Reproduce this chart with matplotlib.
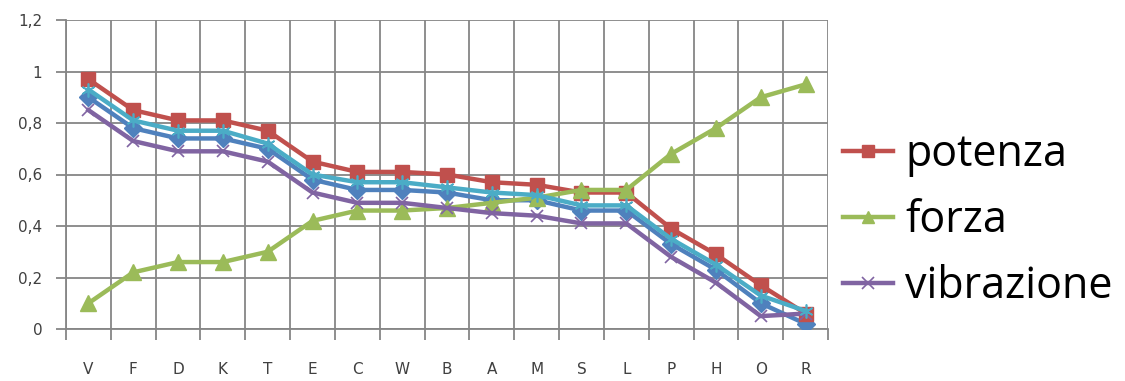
import matplotlib
matplotlib.use("Agg")
import matplotlib.pyplot as plt
from matplotlib.lines import Line2D
from matplotlib.ticker import FixedLocator, FuncFormatter

categories = ["V", "F", "D", "K", "T", "E", "C", "W", "B", "A", "M", "S", "L", "P", "H", "O", "R"]

serie_blu = [0.90, 0.78, 0.74, 0.74, 0.70, 0.58, 0.54, 0.54, 0.53, 0.50, 0.50, 0.46, 0.46, 0.33, 0.23, 0.10, 0.02]
potenza = [0.97, 0.85, 0.81, 0.81, 0.77, 0.65, 0.61, 0.61, 0.60, 0.57, 0.56, 0.53, 0.53, 0.39, 0.29, 0.17, 0.06]
forza = [0.10, 0.22, 0.26, 0.26, 0.30, 0.42, 0.46, 0.46, 0.47, 0.49, 0.51, 0.54, 0.54, 0.68, 0.78, 0.90, 0.95]
vibrazione = [0.85, 0.73, 0.69, 0.69, 0.65, 0.53, 0.49, 0.49, 0.47, 0.45, 0.44, 0.41, 0.41, 0.28, 0.18, 0.05, 0.06]
serie_ciano = [0.93, 0.81, 0.77, 0.77, 0.72, 0.60, 0.57, 0.57, 0.55, 0.53, 0.52, 0.48, 0.48, 0.35, 0.25, 0.13, 0.07]

y_ticks = [0, 0.2, 0.4, 0.6, 0.8, 1.0, 1.2]

fig = plt.figure(figsize=(11.25, 3.81), dpi=100)
ax = fig.add_axes([66 / 1125, 1 - 329 / 381, (828 - 66) / 1125, (329 - 20) / 381])

x = list(range(len(categories)))
grid_c = "#868686"
lw = 3.2

ax.plot(x, serie_blu, color="#4F81BD", lw=lw, marker="D", ms=9, zorder=3)
ax.plot(x, potenza, color="#C0504D", lw=lw, marker="s", ms=10, zorder=4)
ax.plot(x, forza, color="#9BBB59", lw=lw, marker="^", ms=11, zorder=5)
ax.plot(x, vibrazione, color="#8064A2", lw=lw, marker="x", ms=9, mew=1.2, zorder=6)
ax.plot(x, serie_ciano, color="#4BACC6", lw=lw, marker=(6, 2, 0), ms=10, mew=1.2, zorder=7)

ax.set_xlim(-0.5, len(categories) - 0.5)
ax.set_ylim(0, 1.2)

ax.set_xticks(x)
ax.set_xticklabels(categories)
ax.xaxis.set_minor_locator(FixedLocator([i - 0.5 for i in range(len(categories) + 1)]))
ax.tick_params(axis="x", which="major", length=0, pad=24, labelsize=11, labelcolor="#404040")
ax.tick_params(axis="x", which="minor", length=8, width=1.3, color=grid_c)

ax.set_yticks(y_ticks)
ax.yaxis.set_major_formatter(FuncFormatter(lambda v, p: ("%g" % round(v, 1)).replace(".", ",")))
ax.tick_params(axis="y", which="major", length=7, width=1.3, color=grid_c, pad=10,
               labelsize=11, labelcolor="#404040")

ax.grid(True, axis="y", which="major", color=grid_c, lw=1.3)
ax.grid(True, axis="x", which="minor", color=grid_c, lw=1.3)
for side in ["top", "right"]:
    ax.spines[side].set_visible(False)
for side in ["left", "bottom"]:
    ax.spines[side].set_color(grid_c)
    ax.spines[side].set_linewidth(1.3)

handles = [
    Line2D([], [], color="#C0504D", lw=lw, marker="s", ms=8),
    Line2D([], [], color="#9BBB59", lw=lw, marker="^", ms=9),
    Line2D([], [], color="#8064A2", lw=lw, marker="x", ms=8, mew=1.2),
]
fig.legend(handles, ["potenza", "forza", "vibrazione"], loc="center left",
           bbox_to_anchor=(843 / 1125, 1 - 221 / 381), frameon=False,
           borderaxespad=0, borderpad=0,
           prop={"family": "Open Sans", "size": 31}, handlelength=1.16,
           handletextpad=0.28, labelspacing=0.5)

fig.savefig("out.png", dpi=100)
